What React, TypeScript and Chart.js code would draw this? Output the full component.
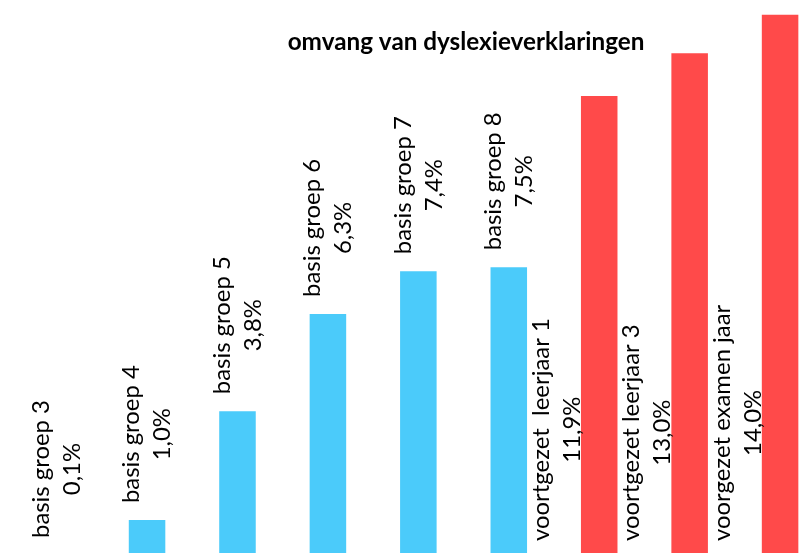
import React, { useEffect, useRef } from "react";
import { Chart, registerables } from "chart.js";

Chart.register(...registerables);

const categories = [
  "basis groep 3",
  "basis groep 4",
  "basis groep 5",
  "basis groep 6",
  "basis groep 7",
  "basis groep 8",
  "voortgezet  leerjaar 1",
  "voortgezet leerjaar 3",
  "voorgezet examen jaar",
];
const values = [0.1, 1.0, 3.8, 6.3, 7.4, 7.5, 11.9, 13.0, 14.0];
const levels = ["basis", "basis", "basis", "basis", "basis", "basis", "voortgezet", "voortgezet", "voortgezet"];
const levelColors: Record<string, string> = { basis: "#4BCBFA", voortgezet: "#FF4A4A" };
const titleText = "omvang van dyslexieverklaringen";

const FONT = "Lato, 'Open Sans', sans-serif";

const fmt = (v: number) => v.toFixed(1).replace(".", ",") + "%";

const labelPlugin = {
  id: "barLabels",
  afterDatasetsDraw(chart: any) {
    const { ctx, chartArea } = chart;
    const meta = chart.getDatasetMeta(0);
    const xScale = chart.scales.x;
    const catW = xScale.width / categories.length;
    ctx.save();
    // fit label font
    ctx.font = `100px ${FONT}`;
    const ref = ctx.measureText("basis groep 3").width;
    const fs = (100 * 138) / ref;
    ctx.font = `${fs}px ${FONT}`;
    ctx.fillStyle = "#000";
    ctx.textAlign = "center";
    ctx.textBaseline = "middle";
    const lineGap = 31;
    meta.data.forEach((bar: any, i: number) => {
      const line1 = categories[i];
      const line2 = fmt(values[i]);
      const w1 = ctx.measureText(line1).width;
      let cx: number;
      let yEnd: number;
      if (levels[i] === "basis") {
        cx = bar.x;
        yEnd = Math.min(bar.y - 17, chartArea.bottom - 21);
      } else {
        cx = bar.x - 0.47 * catW;
        yEnd = chartArea.bottom - 18;
      }
      const cy = yEnd - w1 / 2;
      ctx.save();
      ctx.translate(cx, cy);
      ctx.rotate(-Math.PI / 2);
      ctx.fillText(line1, 0, -lineGap / 2);
      ctx.fillText(line2, 0, lineGap / 2);
      ctx.restore();
    });
    // title
    ctx.font = `bold 100px ${FONT}`;
    const tref = ctx.measureText(titleText).width;
    const tfs = (100 * 357) / tref;
    ctx.font = `bold ${tfs}px ${FONT}`;
    ctx.fillText(titleText, chartArea.left + chartArea.width * 0.5586, 42);
    ctx.restore();
  },
};

export default function App() {
  const ref = useRef<HTMLCanvasElement>(null);
  useEffect(() => {
    const canvas = ref.current!;
    const chart = new Chart(canvas, {
      type: "bar",
      data: {
        labels: categories,
        datasets: [
          {
            data: values,
            backgroundColor: levels.map((l) => levelColors[l]),
            borderWidth: 0,
            barPercentage: 0.404,
            categoryPercentage: 1,
          },
        ],
      },
      options: {
        responsive: false,
        animation: false,
        layout: { padding: { left: 11.4, top: 14.4, right: 14.7, bottom: 16 } },
        plugins: { legend: { display: false }, tooltip: { enabled: false }, title: { display: false } },
        scales: {
          x: { display: false },
          y: { display: false, min: 0, max: 14 },
        },
      },
      plugins: [labelPlugin],
    });
    return () => chart.destroy();
  }, []);
  return (
    <div style={{ position: "fixed", left: 0, top: 0, width: 812, height: 553, overflow: "hidden", background: "#fff" }}>
      <canvas ref={ref} width={840} height={575} style={{ display: "block", width: 840, height: 575 }} />
    </div>
  );
}
